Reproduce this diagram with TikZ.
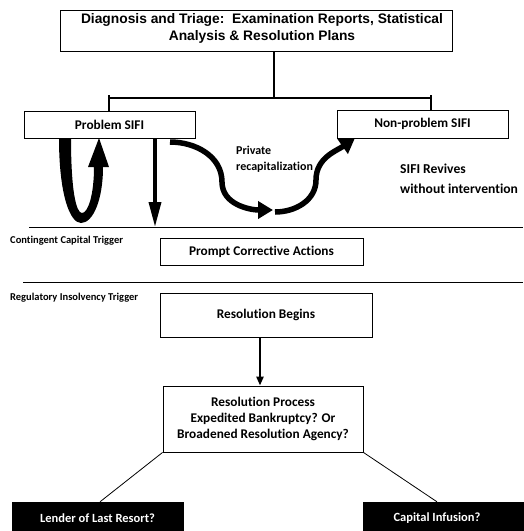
\documentclass[tikz,border=0pt]{standalone}
\usepackage{fontspec}
\setmainfont{Carlito}[Ligatures=NoCommon]
\newfontfamily\arialfont{Liberation Sans}
\usetikzlibrary{arrows.meta}
\begin{document}
\begin{tikzpicture}[x=1pt,y=-1pt,
  box/.style={draw=black,line width=0.8pt,fill=white,inner sep=0pt,font=\bfseries\fontsize{13.3}{16}\selectfont},
  blackbox/.style={draw=black,fill=black,inner sep=0pt},
  wtext/.style={text=white,inner sep=0pt,font=\bfseries\fontsize{12.5}{15}\selectfont},
  lbl/.style={inner sep=0pt,anchor=west,font=\bfseries\fontsize{12}{16}\selectfont,align=left},
  small/.style={inner sep=0pt,anchor=west,font=\bfseries\fontsize{10.5}{12}\selectfont},
  bigarrow/.style={line width=5.5pt,-{Triangle[length=15pt,width=17pt]}},
  thin/.style={line width=0.8pt}
]
\useasboundingbox (0,0) rectangle (523,531);

\node[box,minimum width=392pt,minimum height=41pt] (top) at (256,30.5) {};
\node[inner sep=0pt,align=center,font=\arialfont\bfseries\fontsize{13.8}{17}\selectfont] (toptext) at (262,28)
  {Diagnosis and Triage:\ \ Examination Reports, Statistical\\Analysis \& Resolution Plans};

\node[box,minimum width=171pt,minimum height=27pt] (prob) at (109.5,124.5) {Problem SIFI};
\node[box,minimum width=171pt,minimum height=28pt] (nonprob) at (422.5,124) {Non-problem SIFI};

\coordinate (bar) at (274,98);
\coordinate (barL) at (109,98);
\coordinate (barR) at (431,98);
\coordinate (tickL) at (109,95);
\coordinate (tickR) at (431,95);
\draw[line width=2.5pt] (top.south -| bar) -- (bar);
\draw[line width=2.5pt] (barL) -- (barR);
\draw[line width=2.5pt] (tickL) -- (prob.north -| barL);
\draw[line width=2.5pt] (tickR) -- (nonprob.north -| barR);

% loop arrow (tapered filled shape)
\fill (59,138) .. controls (59,195) and (70,223) .. (81,223)
  .. controls (93,223) and (103,200) .. (103,167) -- (109,167) -- (99,138) -- (88,167) -- (94,167)
  .. controls (94,195) and (88,213) .. (82,213)
  .. controls (76,213) and (71,190) .. (71,138) -- cycle;

% straight down arrow
\coordinate (downA) at (155,138);
\coordinate (downB) at (155,227);
\draw[line width=3.5pt,-{Triangle[length=25pt,width=12pt]}] (downA) -- (downB);

% S-curves
\coordinate (s1) at (170,142);
\coordinate (s2) at (222,182);
\coordinate (s3) at (273,210);
\coordinate (s4) at (275,212);
\coordinate (s5) at (316,180);
\coordinate (s6) at (355,138);
\draw[bigarrow] (s1) to[out=0,in=90] (s2) to[out=-90,in=180] (s3);
\draw[bigarrow] (s4) to[out=0,in=-90] (s5) to[out=90,in=215] (s6);

\node[lbl] (priv) at (236,159.5) {Private\\recapitalization};
\node[lbl,font=\bfseries\fontsize{13.6}{20}\selectfont] (revive) at (400,179) {SIFI Revives\\without intervention};

% trigger lines
\coordinate (l1a) at (29,227);
\coordinate (l1b) at (523,227);
\coordinate (l2a) at (23,282);
\coordinate (l2b) at (523,282);
\draw[thin] (l1a) -- (l1b);
\draw[thin] (l2a) -- (l2b);

\node[small] (cct) at (10,241) {Contingent Capital Trigger};
\node[small] (rit) at (10,298) {Regulatory Insolvency Trigger};

\node[box,minimum width=203pt,minimum height=27pt] (pca) at (261.5,251.5) {Prompt Corrective Actions};
\node[box,minimum width=212pt,minimum height=44pt] (rb) at (266,315) {Resolution Begins};
\node[box,minimum width=200pt,minimum height=66pt,align=center] (rp) at (263,419)
  {Resolution Process\\Expedited Bankruptcy? Or\\Broadened Resolution Agency?};

\draw[line width=2.5pt,-{Triangle[length=9pt,width=7pt]}] (rb.south -| 260,0) -- (rp.north -| 260,0);

\node[blackbox,minimum width=171pt,minimum height=32pt] (lender) at (97.5,518) {};
\node[wtext] (lendert) at (97.5,518) {Lender of Last Resort?};
\node[blackbox,minimum width=162pt,minimum height=32pt] (cap) at (444,518) {};
\node[wtext] (capt) at (437,518) {Capital Infusion?};

\draw[thin] (rp.south west) -- (lender.north -| 100,0);
\draw[thin] (rp.south east) -- (cap.north -| capt);
\end{tikzpicture}
\end{document}
